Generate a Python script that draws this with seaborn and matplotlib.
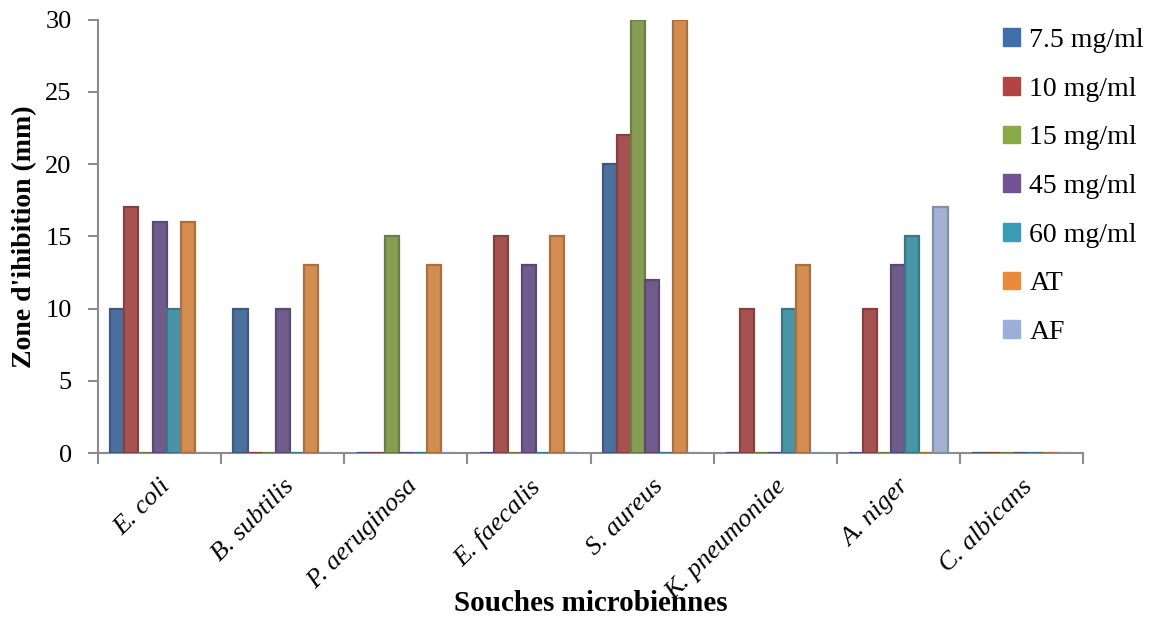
import numpy as np
import pandas as pd
import seaborn as sns
import matplotlib.pyplot as plt
import matplotlib.colors as mcolors

strains = ['E. coli', 'B. subtilis', 'P. aeruginosa', 'E. faecalis',
           'S. aureus', 'K. pneumoniae', 'A. niger', 'C. albicans']
series = ['7.5 mg/ml', '10 mg/ml', '15 mg/ml', '45 mg/ml', '60 mg/ml', 'AT', 'AF']

v_7_5 = [10, 10, 0, 0, 20, 0, 0, 0]
v_10 = [17, 0, 0, 15, 22, 10, 10, 0]
v_15 = [0, 0, 15, 0, 30, 0, 0, 0]
v_45 = [16, 10, 0, 13, 12, 0, 13, 0]
v_60 = [10, 0, 0, 0, 0, 10, 15, 0]
v_at = [16, 13, 13, 15, 30, 13, 0, 0]
v_af = [0, 0, 0, 0, 0, 0, 17, 0]

colors = ['#3f6eaa', '#b44442', '#8aaa48', '#6f5394', '#3a9db5', '#e98b3a', '#9ab0d8']

values = [v_7_5, v_10, v_15, v_45, v_60, v_at, v_af]
rows = []
for name, vals in zip(series, values):
    for strain, v in zip(strains, vals):
        rows.append((strain, name, v))
df = pd.DataFrame(rows, columns=['Souche', 'Serie', 'Zone'])

sns.set_theme(style='white')
plt.rcParams['font.family'] = ['Liberation Serif', 'DejaVu Serif']
plt.rcParams['text.color'] = 'black'
plt.rcParams['xtick.color'] = 'black'
plt.rcParams['ytick.color'] = 'black'
plt.rcParams['axes.labelcolor'] = 'black'

fig = plt.figure(figsize=(11.67, 6.21), dpi=100)
ax = fig.add_axes([0.084, 0.2705, 0.844, 0.698])

sns.barplot(data=df, x='Souche', y='Zone', hue='Serie', order=strains,
            hue_order=series, palette=colors, width=0.8, ax=ax, legend=False)

# darker outline; zero bars show as a flat stub like the original
for patch in ax.patches:
    fc = np.array(mcolors.to_rgb(patch.get_facecolor()))
    patch.set_edgecolor(fc * 0.8)
    patch.set_linewidth(1.6)
    patch.set_zorder(3)

ax.set_ylim(0, 30)
ax.set_xlim(-0.5, len(strains) - 0.5)
ax.set_yticks(range(0, 31, 5))
ax.tick_params(axis='y', labelsize=19, length=7, width=1.5, color='#8c8c8c',
               direction='out', left=True, pad=12)
ax.set_xticks(np.arange(-0.5, len(strains), 1.0), minor=True)
ax.tick_params(axis='x', which='minor', length=8, width=1.5, color='#8c8c8c',
               direction='out', bottom=True)
ax.tick_params(axis='x', which='major', length=0, pad=16)
ax.set_xticks(range(len(strains)))
ax.set_xticklabels(strains, rotation=45, ha='right', rotation_mode='anchor',
                   fontsize=19, style='italic')

for side in ['top', 'right']:
    ax.spines[side].set_visible(False)
for side in ['left', 'bottom']:
    ax.spines[side].set_color('#8c8c8c')
    ax.spines[side].set_linewidth(1.5)
ax.spines['bottom'].set_zorder(2)

ax.set_xlabel('Souches microbiennes', fontsize=21, fontweight='bold')
ax.xaxis.set_label_coords(0.5, -0.315)
ax.set_ylabel("Zone d'ihibition (mm)", fontsize=20, fontweight='bold', labelpad=6)

handles = [plt.Rectangle((0, 0), 1, 1, color=c) for c in colors]
fig.legend(handles, series, loc='upper left', bbox_to_anchor=(0.838, 0.995),
           frameon=False, fontsize=20, handlelength=0.6, handleheight=0.6,
           handletextpad=0.35, labelspacing=0.85)

fig.savefig('out.png', dpi=100)
